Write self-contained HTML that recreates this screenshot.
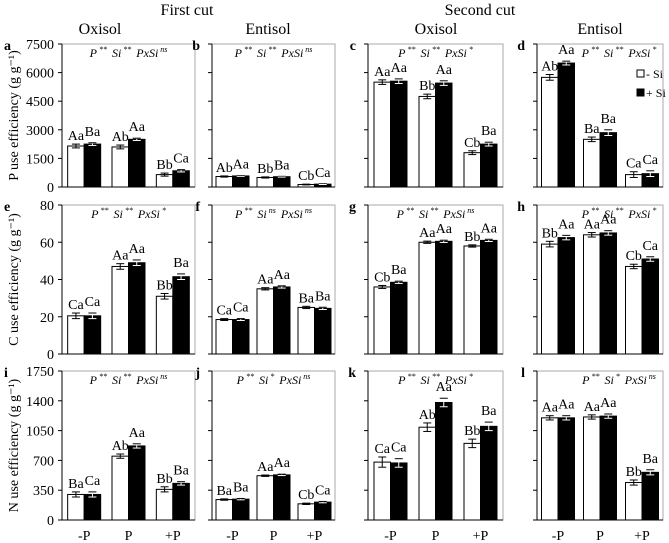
<!DOCTYPE html>
<html><head><meta charset="utf-8"><style>
body{margin:0;background:#fff}
svg{display:block;font-family:"Liberation Serif",serif}
</style></head><body>
<svg id="c" width="669" height="543" viewBox="0 0 669 543"></svg>
<script>
const categories=["-P","P","+P"];
const panelLetters=["a","b","c","d","e","f","g","h","i","j","k","l"];
const rowTicks=[[0,1500,3000,4500,6000,7500],[0,20,40,60,80],[0,350,700,1050,1400,1750]];
const rowMax=[7500,80,1750];
const rowTitles=["P use efficiency (g g\u207B\u00B9)","C use efficiency (g g\u207B\u00B9)","N use efficiency (g g\u207B\u00B9)"];
const noSi=[[2150,2100,650],[550,500,130],[5500,4750,1800],[5750,2500,650],
 [20.5,47,31],[18.5,35,25],[36,60,58],[59,64,47],
 [300,750,360],[240,520,190],[680,1090,900],[1200,1210,440]];
const withSi=[[2250,2500,850],[580,540,150],[5550,5450,2250],[6500,2850,700],
 [20.5,49,41.5],[18.5,36,24.5],[38.5,60.5,61],[62.5,65,51],
 [300,870,430],[245,530,210],[670,1380,1100],[1200,1220,560]];
const errNoSi=[[100,100,80],[30,30,20],[120,120,100],[150,120,150],
 [1.5,1.5,1.5],[0.5,0.6,0.6],[0.8,0.6,0.6],[1.5,1.2,1.2],
 [30,25,30],[8,8,8],[60,50,50],[25,25,30]];
const errSi=[[70,60,60],[20,20,20],[120,120,100],[100,150,150],
 [1.5,1.5,1.5],[0.5,0.6,0.6],[0.6,0.6,0.6],[1.2,1.2,1.2],
 [30,25,20],[8,8,8],[50,50,50],[25,25,30]];
const labNoSi=[["Aa","Ab","Bb"],["Ab","Bb","Cb"],["Aa","Bb","Cb"],["Ab","Ba","Ca"],
 ["Ca","Aa","Bb"],["Ca","Aa","Ba"],["Cb","Aa","Bb"],["Bb","Aa","Cb"],
 ["Ba","Ab","Bb"],["Ba","Aa","Cb"],["Ca","Ab","Bb"],["Aa","Aa","Bb"]];
const labSi=[["Ba","Aa","Ca"],["Aa","Ba","Ca"],["Aa","Aa","Ba"],["Aa","Ba","Ca"],
 ["Ca","Aa","Ba"],["Ca","Aa","Ba"],["Ba","Aa","Aa"],["Aa","Aa","Ca"],
 ["Ca","Aa","Ba"],["Ba","Aa","Ca"],["Ca","Aa","Ba"],["Aa","Aa","Ba"]];
const stats=[["**","**","ns"],["**","**","ns"],["**","**","*"],["**","**","*"],
 ["**","**","*"],["**","ns","ns"],["**","**","ns"],["**","**","*"],
 ["**","**","ns"],["**","*","ns"],["**","**","*"],["**","*","ns"]];
const colX=[[62,195],[212,335],[368,503],[537,663]];
const rowY=[[44,187],[205,354],[371,520]];
const svg=document.getElementById('c');
const NS="http://www.w3.org/2000/svg";
function mk(t,a,p){const e=document.createElementNS(NS,t);for(const k in a)e.setAttribute(k,a[k]);(p||svg).appendChild(e);return e;}
function txt(s,a,p){const e=mk('text',a,p);e.textContent=s;return e;}
let h;
h=txt("First cut",{x:187,y:15,'text-anchor':'middle','font-size':16});
h=txt("Second cut",{x:480,y:15,'text-anchor':'middle','font-size':16});
[["Oxisol",100],["Entisol",268],["Oxisol",436],["Entisol",600]].forEach(([s,x])=>{
 const e=txt(s,{x:x,y:34,'text-anchor':'middle','font-size':16});
 
 
});
for(let r=0;r<3;r++){
 const [yt,yb]=rowY[r];
 const ys=v=>yb-v/rowMax[r]*(yb-yt);
 const yt2=txt(rowTitles[r],{transform:`translate(18,${(yt+yb)/2}) rotate(-90)`,'text-anchor':'middle','font-size':14});
 
 
 for(let c=0;c<4;c++){
  const i=r*4+c;const [xl,xr]=colX[c];
  const g=mk('g',{});
  
  
  mk('rect',{x:xl,y:yt,width:xr-xl,height:yb-yt,fill:'none',stroke:'#aaa','stroke-width':1},g);
  mk('line',{x1:xl,y1:yt,x2:xl,y2:yb,stroke:'#000'},g);
  mk('line',{x1:xl,y1:yb,x2:xr,y2:yb,stroke:'#000'},g);
  rowTicks[r].forEach(t=>{
   mk('line',{x1:xl-4,y1:ys(t),x2:xl,y2:ys(t),stroke:'#000'},g);
   if(c===0){const e=txt(t,{x:xl-8,y:ys(t)+5,'text-anchor':'end','font-size':14},g);
    }
  });
  const pl=txt(panelLetters[i],{x:xl-12,y:yt+6,'font-size':14,'font-weight':'bold','text-anchor':'end'},g);
  if(c===0){pl.setAttribute('x',4);pl.setAttribute('text-anchor','start');}
  
  const st=stats[i];
  const sx=c===3?xl+82:(xl+xr)/2;
  const s=txt("",{x:sx,y:yt+13,'text-anchor':'middle','font-size':12,'font-style':'italic'},g);
  
  s.innerHTML=`P<tspan font-size="8" dx="2" dy="-5">${st[0]}</tspan><tspan dx="5" dy="5">Si</tspan><tspan font-size="8" dx="2" dy="-5">${st[1]}</tspan><tspan dx="5" dy="5">PxSi</tspan><tspan font-size="8" dx="2" dy="-5">${st[2]}</tspan>`;
  const gw=(xr-xl)/3,bw=16.5;
  for(let k=0;k<3;k++){
   const cx=xl+gw*(k+0.5);
   [[noSi,errNoSi,labNoSi,'#fff',cx-bw],[withSi,errSi,labSi,'#000',cx]].forEach(([vals,errs,labs,fill,x0],si)=>{
    const v=vals[i][k],e=errs[i][k];
    const b=mk('rect',{x:x0,y:ys(v),width:bw,height:yb-ys(v),fill:fill,stroke:'#000','stroke-width':1},g);
    
    
    const ex=x0+bw/2;
    mk('line',{x1:ex,y1:ys(v+e),x2:ex,y2:ys(v-e),stroke:si?'#fff':'#000','stroke-width':1},g);
    mk('line',{x1:ex-4,y1:ys(v+e),x2:ex+4,y2:ys(v+e),stroke:'#000'},g);
    mk('line',{x1:ex-4,y1:ys(v-e),x2:ex+4,y2:ys(v-e),stroke:si?'#fff':'#000'},g);
    const lb=txt(labs[i][k],{x:ex,y:ys(v+e)-4-(si?3:0),'text-anchor':'middle','font-size':14},g);
    
   });
   if(r===2){const xt=txt(categories[k],{x:cx,y:540,'text-anchor':'middle','font-size':14},g);
    }
  }
 }
}
const lg=mk('g',{});


mk('rect',{x:637,y:70,width:7,height:7,fill:'#fff',stroke:'#000'},lg);
txt("- Si",{x:646,y:78,'font-size':12},lg);
mk('rect',{x:637,y:89,width:7,height:7,fill:'#000',stroke:'#000'},lg);
txt("+ Si",{x:646,y:97,'font-size':12},lg);
</script>
</body></html>
